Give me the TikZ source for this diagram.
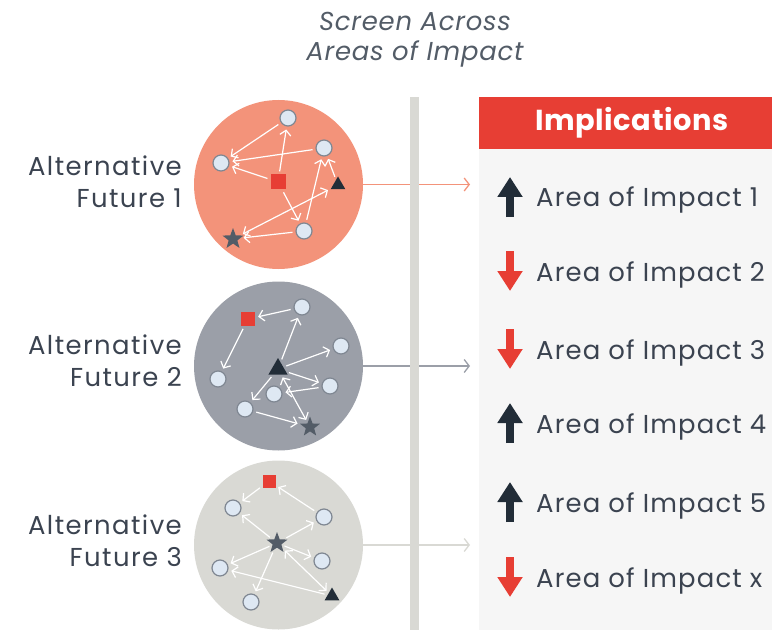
\documentclass[tikz,border=0pt]{standalone}
\usepackage{fontspec}
\setmainfont{Poppins}
\usepackage{xcolor}
\usetikzlibrary{shapes.geometric,arrows.meta}

\definecolor{salmon}{HTML}{F3937A}
\definecolor{slate}{HTML}{9B9FA8}
\definecolor{pale}{HTML}{D9D9D4}
\definecolor{impred}{HTML}{E73E34}
\definecolor{navy}{HTML}{222D38}
\definecolor{starg}{HTML}{535C67}
\definecolor{dotfill}{HTML}{DEE8F3}
\definecolor{dotline}{HTML}{7F8792}
\definecolor{txt}{HTML}{3B4350}
\definecolor{panelbg}{HTML}{F6F6F6}

\tikzset{
  future/.style={circle,inner sep=0,minimum size=169bp},
  spot/.style={circle,draw=dotline,fill=dotfill,line width=1.2bp,inner sep=0,minimum size=16bp},
  sqr/.style={fill=impred,inner sep=0,minimum size=15bp},
  tri/.style={regular polygon,regular polygon sides=3,fill=navy,inner sep=0,minimum size=17bp},
  starnode/.style={star,star points=5,star point ratio=2.4,fill=starg,inner sep=0,minimum size=22bp},
  flow/.style={draw=white,line width=1.2bp,-{Straight Barb[length=5bp,width=11bp]},shorten >=3bp,shorten <=3bp},
  twoway/.style={flow,{Straight Barb[length=5bp,width=11bp]}-{Straight Barb[length=5bp,width=11bp]}},
  feed/.style={line width=1.3bp,-{Straight Barb[length=5bp,width=13bp]}},
  altlabel/.style={anchor=east,align=right,inner sep=0,text=txt,font=\fontsize{26}{32}\selectfont\addfontfeature{LetterSpace=5.5}},
  item/.style={anchor=base west,inner sep=0,text=txt,font=\fontsize{26}{31}\selectfont\addfontfeature{LetterSpace=4.5}},
  upicon/.style={draw=navy,line width=8bp,-{Triangle[length=20bp,width=24bp]}},
  downicon/.style={draw=impred,line width=8bp,{Triangle[length=20bp,width=24bp]}-}
}

\begin{document}
\begin{tikzpicture}[x=1bp,y=-1bp]
\useasboundingbox (0,0) rectangle (772,630);

% title
\node (title) at (415,40) [align=center,inner sep=0,text=starg,font=\fontsize{26}{30}\selectfont\itshape\addfontfeature{LetterSpace=3}] {Screen Across\\Areas of Impact};

% the three futures
\node (f1) at (278.5,184.5) [future,fill=salmon] {};
\node (f2) at (278.5,366) [future,fill=slate] {};
\node (f3) at (278.5,545) [future,fill=pale] {};
\node (l1) at (182,182) [altlabel] {Alternative\\Future 1};
\node (l2) at (182,361) [altlabel] {Alternative\\Future 2};
\node (l3) at (182,541) [altlabel] {Alternative\\Future 3};

% future 1
\node (s1) at (278,182) [sqr] {};
\node (a1) at (288,118) [spot] {};
\node (b1) at (221,163) [spot] {};
\node (c1) at (324,148) [spot] {};
\node (d1) at (304,231) [spot] {};
\node (t1) at (338,185) [tri] {};
\node (r1) at (233,239) [starnode] {};
\draw[flow] (a1) -- (b1);
\draw[flow] (c1) -- (b1);
\draw[flow] (s1) -- (b1);
\draw[flow] (s1) -- (a1);
\draw[flow] (s1) -- (d1);
\draw[flow] (d1) -- (c1);
\draw[flow] (t1) -- (c1);
\draw[twoway] (r1) -- (t1);
\draw[flow] (d1) -- (r1);

% future 2
\node (s2) at (248,319) [sqr,minimum size=14bp] {};
\node (a2) at (302,307) [spot] {};
\node (b2) at (341,346) [spot] {};
\node (t2) at (278,369) [tri,minimum size=22bp] {};
\node (c2) at (218,379) [spot] {};
\node (d2) at (330,386) [spot] {};
\node (e2) at (274,394) [spot] {};
\node (g2) at (245,409) [spot] {};
\node (r2) at (310,427) [starnode,minimum size=21bp] {};
\draw[flow] (a2) -- (s2);
\draw[flow] (s2) -- (c2);
\draw[flow] (t2) -- (a2);
\draw[flow] (t2) -- (b2);
\draw[flow] (t2) -- (g2);
\draw[flow] (t2) -- (d2);
\draw[flow] (d2) -- (e2);
\draw[twoway] (t2) -- (r2);
\draw[flow] (g2) -- (r2);

% future 3
\node (s3) at (269,481) [sqr,minimum size=13bp] {};
\node (a3) at (233,508) [spot] {};
\node (b3) at (324,517) [spot] {};
\node (r3) at (277,543) [starnode] {};
\node (c3) at (322,561) [spot] {};
\node (d3) at (220,568) [spot] {};
\node (e3) at (251,602) [spot] {};
\node (t3) at (332,596) [tri] {};
\draw[flow] (s3) -- (a3);
\draw[flow] (b3) -- (s3);
\draw[flow] (r3) -- (a3);
\draw[flow] (r3) -- (b3);
\draw[flow] (r3) -- (c3);
\draw[flow] (r3) -- (d3);
\draw[flow] (r3) -- (e3);
\draw[twoway] (t3) -- (r3);
\draw[flow] (t3) -- (d3);

% screen
\coordinate (edge) at (470,0);
\draw[feed,salmon] (f1.east) -- (f1.east -| edge);
\draw[feed,slate] (f2.east) -- (f2.east -| edge);
\draw[feed,pale] (f3.east) -- (f3.east -| edge);
\fill[pale] (410,97) rectangle (419,630);

% implications
\fill[panelbg] (479,149) rectangle (772,630);
\fill[impred] (479,97) rectangle (772,149);
\node (head) at (632,123) [text=white,font=\fontsize{29}{34}\selectfont\bfseries\addfontfeature{LetterSpace=2}] {Implications};
\foreach \y/\s/\n [count=\i] in {207/upicon/1,281/downicon/2,359/downicon/3,433/upicon/4,512/upicon/5,587/downicon/x} {
  \node (imp\i) at (536,\y) [item] {Area of Impact \n};
  \coordinate (lo\i) at ([xshift=-26bp,yshift=-10bp]imp\i.base west);
  \coordinate (hi\i) at ([xshift=-26bp,yshift=30bp]imp\i.base west);
  \draw[\s] (lo\i) -- (hi\i);
}
\end{tikzpicture}
\end{document}
